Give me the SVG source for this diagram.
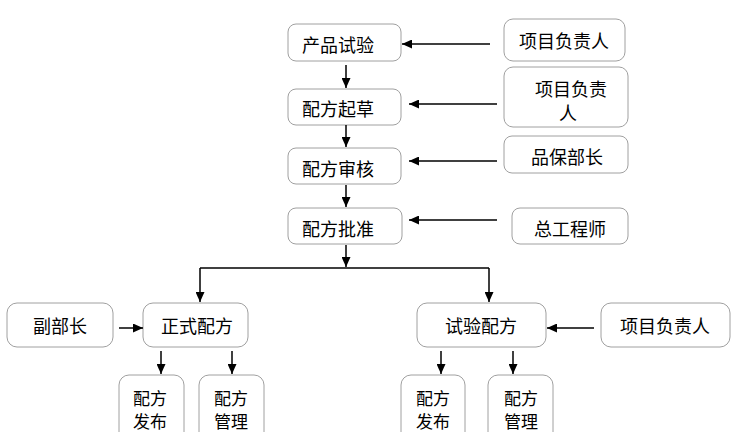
<svg xmlns="http://www.w3.org/2000/svg" width="737" height="432" viewBox="0 0 737 432">
<style>
.box{fill:#fff;stroke:#a0a0a0;stroke-width:1}
.t{font-family:"Noto Sans CJK SC","Noto Sans",sans-serif;font-size:18px;fill:#000;text-anchor:middle;dominant-baseline:central}
.s{font-size:17px}
.c{stroke:#000;stroke-width:1.5;fill:none}
.ca{stroke:#000;stroke-width:1.5;fill:none;marker-end:url(#ah)}
</style>
<defs>
<marker id="ah" markerUnits="userSpaceOnUse" markerWidth="11" markerHeight="9" refX="10" refY="4.5" orient="auto">
<path d="M0,0 L10,4.5 L0,9 z" fill="#000"/>
</marker>
</defs>
<rect width="737" height="432" fill="#fff"/>
<g id="n1"><rect class="box" x="288" y="24" width="113" height="37" rx="8"/><text class="t" x="338" y="44">产品试验</text></g>
<g id="n2"><rect class="box" x="288" y="89" width="113" height="36" rx="8"/><text class="t" x="338" y="108">配方起草</text></g>
<g id="n3"><rect class="box" x="288" y="148" width="113" height="36" rx="8"/><text class="t" x="338" y="168">配方审核</text></g>
<g id="n4"><rect class="box" x="288" y="208" width="114" height="36" rx="8"/><text class="t" x="338" y="228">配方批准</text></g>
<g id="r1"><rect class="box" x="504" y="19" width="121" height="42" rx="9"/><text class="t" x="564" y="40">项目负责人</text></g>
<g id="r2"><rect class="box" x="504" y="67" width="124" height="60" rx="9"/><text class="t" x="571" y="88">项目负责</text><text class="t" x="568" y="112">人</text></g>
<g id="r3"><rect class="box" x="504" y="136" width="124" height="37" rx="8"/><text class="t" x="567" y="156">品保部长</text></g>
<g id="r4"><rect class="box" x="512" y="208" width="116" height="36" rx="8"/><text class="t" x="570" y="228">总工程师</text></g>
<g id="n5"><rect class="box" x="143" y="303" width="105" height="44" rx="10"/><text class="t" x="197" y="325">正式配方</text></g>
<g id="l1"><rect class="box" x="7" y="303" width="106" height="44" rx="10"/><text class="t" x="60" y="325">副部长</text></g>
<g id="n6"><rect class="box" x="417" y="303" width="129" height="44" rx="10"/><text class="t" x="481" y="325">试验配方</text></g>
<g id="r5"><rect class="box" x="601" y="303" width="129" height="44" rx="10"/><text class="t" x="665" y="325">项目负责人</text></g>
<g id="b1"><rect class="box" x="119" y="375" width="65" height="70" rx="10"/><text class="t s" x="150" y="397">配方</text><text class="t s" x="150" y="420">发布</text></g>
<g id="b2"><rect class="box" x="199" y="375" width="65" height="70" rx="10"/><text class="t s" x="231" y="397">配方</text><text class="t s" x="231" y="420">管理</text></g>
<g id="b3"><rect class="box" x="401" y="375" width="64" height="70" rx="10"/><text class="t s" x="433" y="397">配方</text><text class="t s" x="433" y="420">发布</text></g>
<g id="b4"><rect class="box" x="488" y="375" width="65" height="70" rx="10"/><text class="t s" x="521" y="397">配方</text><text class="t s" x="521" y="420">管理</text></g>
<g id="connectors">
<line class="ca" x1="346" y1="65" x2="346" y2="88"/>
<line class="ca" x1="346" y1="125" x2="346" y2="147"/>
<line class="ca" x1="346" y1="185" x2="346" y2="207"/>
<line class="ca" x1="346" y1="245" x2="346" y2="267"/>
<line class="ca" x1="490" y1="44" x2="402" y2="44"/>
<line class="ca" x1="497" y1="104" x2="409" y2="104"/>
<line class="ca" x1="497" y1="161" x2="409" y2="161"/>
<line class="ca" x1="497" y1="220" x2="409" y2="220"/>
<line class="c" x1="200" y1="268" x2="489" y2="268"/>
<path class="ca" d="M200,268 L200,302"/>
<path class="ca" d="M489,268 L489,302"/>
<line class="ca" x1="119" y1="328" x2="143" y2="328"/>
<line class="ca" x1="594" y1="328" x2="547" y2="328"/>
<line class="ca" x1="161" y1="351" x2="161" y2="374"/>
<line class="ca" x1="232" y1="351" x2="232" y2="374"/>
<line class="ca" x1="441" y1="351" x2="441" y2="374"/>
<line class="ca" x1="513" y1="351" x2="513" y2="374"/>
</g>
</svg>
